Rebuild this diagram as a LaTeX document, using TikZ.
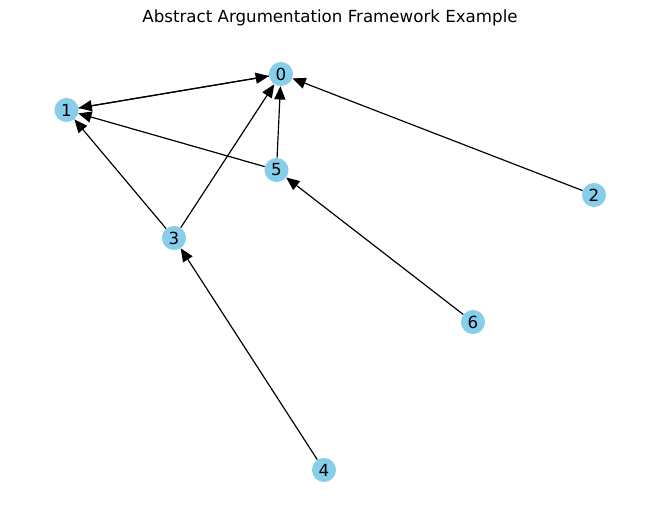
\documentclass[tikz,border=0pt]{standalone}
\usepackage{fontspec}
\setmainfont{DejaVu Sans}
\usetikzlibrary{arrows.meta}
\definecolor{skyblue}{HTML}{87CEEB}
\begin{document}
\begin{tikzpicture}[x=0.72pt,y=-0.72pt,
  arg/.style={circle,fill=skyblue,minimum size=17.3pt,inner sep=0pt,font=\fontsize{12}{14}\selectfont},
  att/.style={-{Triangle[length=9.5pt,width=8pt]},line width=0.85pt,black}]
\useasboundingbox (0,0) rectangle (660,522);
\node[font=\fontsize{12}{14}\selectfont] (title) at (330,18) {Abstract Argumentation Framework Example};
\node[arg] (n0) at (281,74) {0};
\node[arg] (n1) at (66.5,110) {1};
\node[arg] (n2) at (594,195) {2};
\node[arg] (n3) at (174,238) {3};
\node[arg] (n4) at (324,470) {4};
\node[arg] (n5) at (276.5,170) {5};
\node[arg] (n6) at (473,322) {6};
\draw[att] (n1) -- (n0);
\draw[att] (n0) -- (n1);
\draw[att] (n5) -- (n1);
\draw[att] (n5) -- (n0);
\draw[att] (n3) -- (n0);
\draw[att] (n3) -- (n1);
\draw[att] (n2) -- (n0);
\draw[att] (n6) -- (n5);
\draw[att] (n4) -- (n3);
\end{tikzpicture}
\end{document}
